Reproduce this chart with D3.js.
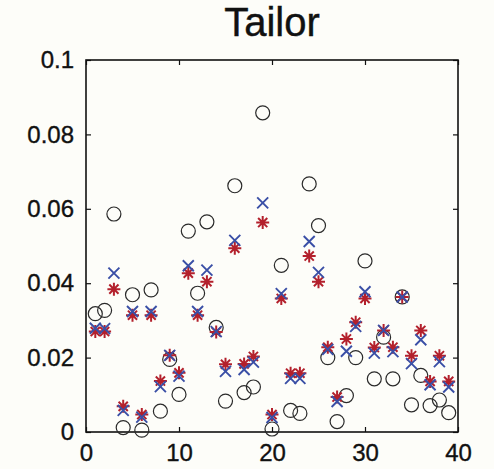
<!DOCTYPE html>
<html>
<head>
<meta charset="utf-8">
<script src="https://cdn.jsdelivr.net/npm/d3@7/dist/d3.min.js"></script>
<style>
  html, body { margin: 0; padding: 0; background: #fdfdf9; }
  svg { display: block; font-family: "Liberation Sans", Arial, Helvetica, sans-serif; }
</style>
</head>
<body>
<svg id="chart" width="494" height="469"></svg>
<script>
const title = "Tailor";
const xTicks = [0, 10, 20, 30, 40];
const yTicks = [0, 0.02, 0.04, 0.06, 0.08, 0.1];
const yTickLabels = ["0", "0.02", "0.04", "0.06", "0.08", "0.1"];
const index = d3.range(1, 40);
const circleValues = [0.0318,0.0327,0.0586,0.0012,0.0369,0.0005,0.0382,0.0056,0.0195,0.0101,
  0.054,0.0373,0.0565,0.0281,0.0083,0.0662,0.0106,0.0121,0.0858,0.0008,
  0.0448,0.0058,0.005,0.0667,0.0555,0.02,0.0028,0.0098,0.02,0.046,
  0.0143,0.0255,0.0143,0.0363,0.0073,0.0152,0.0071,0.0086,0.0052];
const crossValues = [0.0279,0.0278,0.0427,0.0058,0.0324,0.004,0.0324,0.0122,0.0206,0.015,
  0.0447,0.0324,0.0435,0.027,0.0163,0.0515,0.0168,0.0188,0.0616,0.0039,
  0.0372,0.0144,0.0144,0.0512,0.0429,0.0222,0.0082,0.0217,0.0284,0.0377,
  0.0212,0.0273,0.0216,0.0363,0.0184,0.0248,0.0127,0.0189,0.0121];
const starValues = [0.027,0.027,0.0384,0.0069,0.0314,0.0047,0.0314,0.0137,0.0206,0.0159,
  0.0427,0.0314,0.0404,0.0269,0.0182,0.0494,0.0183,0.0203,0.0563,0.0047,
  0.0359,0.0158,0.0158,0.0473,0.0404,0.0228,0.0094,0.025,0.0295,0.0359,
  0.0227,0.0273,0.0228,0.0363,0.0205,0.0273,0.0136,0.0205,0.0136];

const svg = d3.select("#chart");
const pL = 86, pR = 458, pT = 60, pB = 432;
const x = d3.scaleLinear().domain([0, 40]).range([pL, pR]);
const y = d3.scaleLinear().domain([0, 0.1]).range([pB, pT]);

svg.append("rect").attr("width", 494).attr("height", 469).attr("fill", "#fdfdf9");

// title
svg.append("text").attr("x", (pL + pR) / 2).attr("y", 36)
  .attr("text-anchor", "middle").attr("font-size", 40).attr("fill", "#111")
  .attr("stroke", "#111").attr("stroke-width", 0.4).text(title);

// axes with inward ticks
const fmtY = (d, i) => yTickLabels[i];
const axisStyle = g => {
  g.select(".domain").remove();
  g.selectAll("line").attr("stroke", "#111").attr("stroke-width", 1.2);
  g.selectAll("text").attr("font-size", 24).attr("fill", "#111")
    .attr("stroke", "#111").attr("stroke-width", 0.35);
};
svg.append("g").attr("transform", `translate(0,${pB})`)
  .call(d3.axisBottom(x).tickValues(xTicks).tickSizeInner(-5).tickSizeOuter(0).tickPadding(12))
  .call(axisStyle);
svg.append("g").attr("transform", `translate(0,${pT})`)
  .call(d3.axisTop(x).tickValues(xTicks).tickSizeInner(-5).tickSizeOuter(0).tickFormat(""))
  .call(axisStyle);
svg.append("g").attr("transform", `translate(${pL},0)`)
  .call(d3.axisLeft(y).tickValues(yTicks).tickSizeInner(-5).tickSizeOuter(0).tickPadding(12).tickFormat(fmtY))
  .call(axisStyle);
svg.append("g").attr("transform", `translate(${pR},0)`)
  .call(d3.axisRight(y).tickValues(yTicks).tickSizeInner(-5).tickSizeOuter(0).tickFormat(""))
  .call(axisStyle);

svg.append("rect").attr("x", pL).attr("y", pT).attr("width", pR - pL).attr("height", pB - pT)
  .attr("fill", "none").attr("stroke", "#111").attr("stroke-width", 1.6);

// circles
svg.append("g").selectAll("circle").data(index).join("circle")
  .attr("cx", d => x(d)).attr("cy", (d, i) => y(circleValues[i])).attr("r", 7)
  .attr("fill", "none").attr("stroke", "#2a2a2a").attr("stroke-width", 1.2);

// red asterisks
const sr = 6.5;
const starPath = d3.range(4).map(k => {
  const a = k * Math.PI / 4;
  const dx = sr * Math.cos(a), dy = sr * Math.sin(a);
  return `M${-dx},${-dy}L${dx},${dy}`;
}).join("");
svg.append("g").selectAll("path").data(index).join("path")
  .attr("transform", (d, i) => `translate(${x(d)},${y(starValues[i])})`)
  .attr("d", starPath).attr("stroke", "#b3202c").attr("stroke-width", 2).attr("fill", "none");

// blue crosses
const cr = 5.5;
svg.append("g").selectAll("path").data(index).join("path")
  .attr("transform", (d, i) => `translate(${x(d)},${y(crossValues[i])})`)
  .attr("d", `M${-cr},${-cr}L${cr},${cr}M${-cr},${cr}L${cr},${-cr}`)
  .attr("stroke", "#3a4fa6").attr("stroke-width", 1.9).attr("fill", "none");
</script>
</body>
</html>
